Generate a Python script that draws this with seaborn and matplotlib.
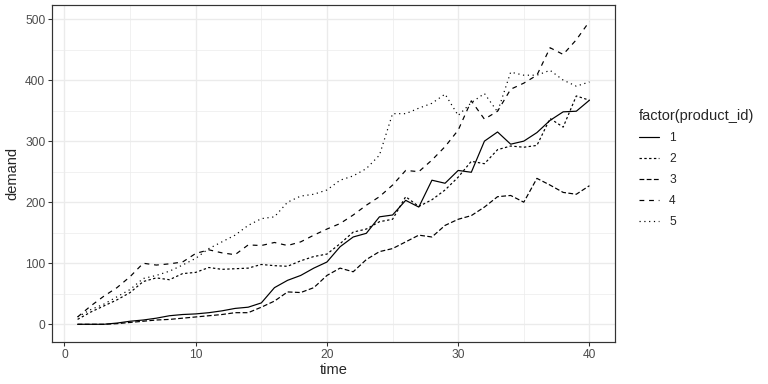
import matplotlib
import numpy as np
import pandas as pd
import seaborn as sns

matplotlib.use("Agg")
import matplotlib.pyplot as plt
from matplotlib.ticker import MultipleLocator

time = list(range(1, 41))

product_1 = [0, 0, 0, 2, 5, 7, 10, 14, 16, 17,
             19, 22, 26, 28, 35, 60, 72, 80, 92, 102,
             127, 143, 149, 176, 179, 203, 192, 236, 231, 252,
             249, 300, 315, 295, 300, 314, 334, 348, 349, 367]
product_2 = [8, 20, 30, 40, 52, 70, 76, 73, 83, 85,
             93, 90, 91, 92, 98, 96, 95, 104, 111, 115,
             132, 151, 156, 168, 172, 209, 193, 204, 220, 241,
             267, 263, 286, 292, 290, 293, 337, 323, 374, 367]
product_3 = [0, 0, 0, 1, 3, 5, 7, 8, 10, 12,
             14, 16, 19, 19, 28, 38, 53, 52, 60, 80,
             92, 86, 106, 119, 124, 135, 146, 143, 162, 172,
             178, 192, 209, 211, 200, 239, 228, 216, 213, 227]
product_4 = [12, 30, 46, 60, 78, 100, 97, 99, 102, 116,
             122, 117, 114, 130, 129, 134, 129, 135, 146, 156,
             165, 179, 195, 209, 228, 252, 250, 269, 291, 318,
             366, 336, 349, 385, 395, 408, 453, 442, 466, 496]
product_5 = [12, 24, 33, 45, 57, 75, 80, 87, 97, 108,
             124, 135, 146, 162, 173, 176, 200, 210, 213, 220,
             236, 243, 255, 277, 345, 345, 354, 362, 377, 342,
             363, 378, 348, 413, 408, 408, 416, 400, 390, 397]

product_ids = ["1", "2", "3", "4", "5"]
series = [product_1, product_2, product_3, product_4, product_5]

df = pd.DataFrame({
    "time": time * len(series),
    "demand": sum(series, []),
    "product_id": np.repeat(product_ids, len(time)),
})

# ggplot default linetypes: solid, 22, 42, 44, 13
dash_styles = {"1": "", "2": (2, 2), "3": (4, 2), "4": (4, 4), "5": (1, 3)}

sns.set_style("white")
plt.rcParams["font.family"] = ["Liberation Sans", "DejaVu Sans"]

fig = plt.figure(figsize=(8, 4), dpi=96)
ax = fig.add_axes([0.0677, 0.1094, 0.7331, 0.8776])

sns.lineplot(data=df, x="time", y="demand", style="product_id",
             dashes=dash_styles, color="black", linewidth=0.9,
             ax=ax, legend=True)

ax.set_xlim(-0.95, 41.95)
ax.set_ylim(-29, 523)
ax.xaxis.set_major_locator(MultipleLocator(10))
ax.xaxis.set_minor_locator(MultipleLocator(5))
ax.yaxis.set_major_locator(MultipleLocator(100))
ax.yaxis.set_minor_locator(MultipleLocator(50))
ax.grid(which="major", color="#ebebeb", linewidth=1.0)
ax.grid(which="minor", color="#ebebeb", linewidth=0.5)
ax.set_axisbelow(True)
for spine in ax.spines.values():
    spine.set_color("#333333")
    spine.set_linewidth(0.9)
ax.tick_params(axis="both", which="major", length=3, width=0.8,
               color="#333333", labelcolor="#4d4d4d", labelsize=9, pad=2,
               bottom=True, left=True)
ax.tick_params(which="minor", length=0)
ax.set_xlabel("time", fontsize=11, labelpad=2)
ax.set_ylabel("demand", fontsize=11, labelpad=4)

handles, labels = ax.get_legend_handles_labels()
ax.get_legend().remove()
fig.legend(handles, labels, title="factor(product_id)", loc="upper left",
           bbox_to_anchor=(0.818, 0.745), frameon=False, fontsize=9,
           title_fontsize=11, handlelength=1.7, labelspacing=0.75,
           handletextpad=0.8, alignment="left")

plt.savefig("out.png", dpi=96)
plt.close()
